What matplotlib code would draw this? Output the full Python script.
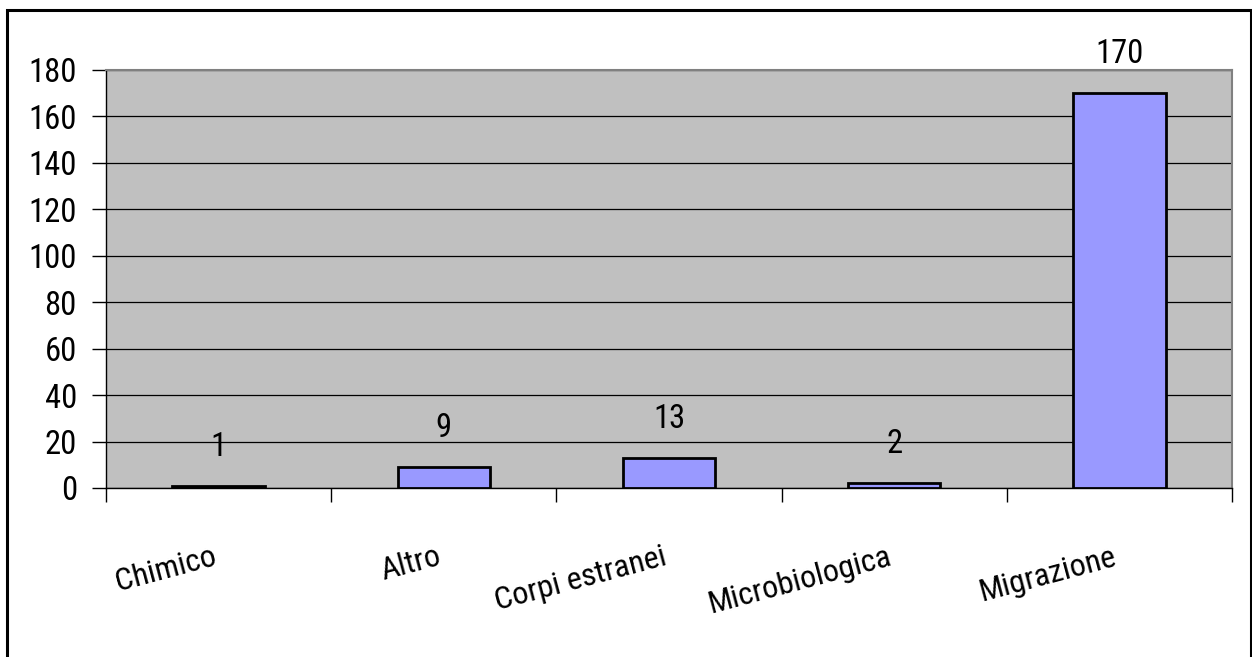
import matplotlib
matplotlib.use("Agg")
import matplotlib.pyplot as plt
from matplotlib.patches import Rectangle
from matplotlib.ticker import FixedLocator
import matplotlib.transforms as mtransforms

categories = ["Chimico", "Altro", "Corpi estranei", "Microbiologica", "Migrazione"]
values = [1, 9, 13, 2, 170]
yticks = [0, 20, 40, 60, 80, 100, 120, 140, 160, 180]

plt.rcParams['font.family'] = ['Roboto Condensed', 'Liberation Sans', 'DejaVu Sans']

W, H = 1252, 657
fig = plt.figure(figsize=(W / 100, H / 100), dpi=100)
# plot area in pixels: left 106, right 1232, top 70, bottom 488
ax = fig.add_axes([106 / W, 1 - 488 / H, (1232 - 106) / W, (488 - 70) / H])
ax.set_facecolor('#C0C0C0')

x = list(range(len(categories)))
ax.bar(x, values, width=0.41, color='#9999FF', edgecolor='black', linewidth=2, zorder=3)

ax.set_xlim(-0.5, len(categories) - 0.5)
ax.set_ylim(0, 180)
ax.set_yticks(yticks)
ax.yaxis.grid(True, color='black', linewidth=0.9, zorder=1)
ax.set_axisbelow(True)

for s in ['top', 'right']:
    ax.spines[s].set_color('#808080')
    ax.spines[s].set_linewidth(1.5)
for s in ['left', 'bottom']:
    ax.spines[s].set_color('black')
    ax.spines[s].set_linewidth(1.0)

ax.tick_params(axis='y', direction='out', length=10, width=1, pad=11, labelsize=23.5)

# category labels at centers (no tick), boundary ticks as minor
ax.set_xticks(x)
ax.set_xticklabels(categories, rotation=15, ha='right', rotation_mode='anchor', fontsize=23)
ax.tick_params(axis='x', which='major', length=0, pad=39)
ax.xaxis.set_minor_locator(FixedLocator([i - 0.5 for i in range(len(categories) + 1)]))
ax.tick_params(axis='x', which='minor', direction='out', length=10, width=1)
off = mtransforms.ScaledTranslation(-7 / 100, 0, fig.dpi_scale_trans)
for lbl in ax.get_xticklabels():
    lbl.set_transform(lbl.get_transform() + off)

for xi, v in zip(x, values):
    ax.annotate(str(v), xy=(xi, v), xytext=(0, 21.5), textcoords='offset points',
                ha='center', va='baseline', fontsize=23.5, clip_on=False)

# outer border
fig.patches.append(Rectangle((7 / W, -0.05), (1250.5 - 7) / W, 1 - 10 / H + 0.05,
                             transform=fig.transFigure, fill=False,
                             edgecolor='black', linewidth=2.2, zorder=10))

fig.savefig('out.png', dpi=100)
